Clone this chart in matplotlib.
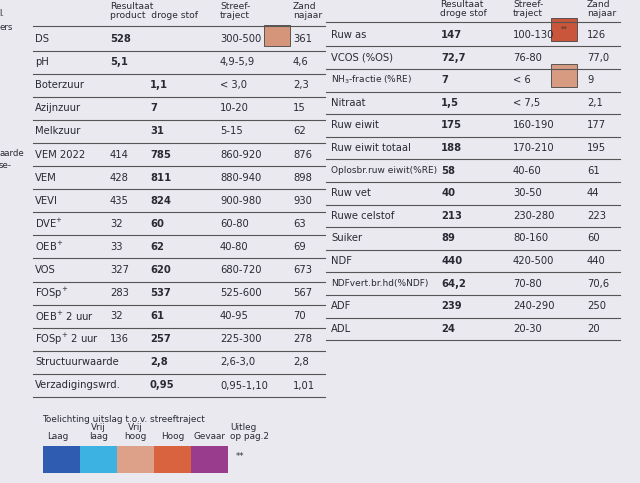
import matplotlib.pyplot as plt
from matplotlib.patches import Rectangle

# Left table
left_labels = ['DS', 'pH', 'Boterzuur', 'Azijnzuur', 'Melkzuur', 'VEM 2022', 'VEM', 'VEVI',
               'DVE$^{+}$', 'OEB$^{+}$', 'VOS', 'FOSp$^{+}$', 'OEB$^{+}$ 2 uur', 'FOSp$^{+}$ 2 uur',
               'Structuurwaarde', 'Verzadigingswrd.']
left_product = ['528', '5,1', '', '', '', '414', '428', '435', '32', '33', '327', '283', '32', '136', '', '']
left_ds = ['', '', '1,1', '7', '31', '785', '811', '824', '60', '62', '620', '537', '61', '257', '2,8', '0,95']
left_streef = ['300-500', '4,9-5,9', '< 3,0', '10-20', '5-15', '860-920', '880-940', '900-980',
               '60-80', '40-80', '680-720', '525-600', '40-95', '225-300', '2,6-3,0', '0,95-1,10']
left_zand = ['361', '4,6', '2,3', '15', '62', '876', '898', '930', '63', '69', '673', '567', '70',
             '278', '2,8', '1,01']

# Right table
right_labels = ['Ruw as', 'VCOS (%OS)', 'NH$_3$-fractie (%RE)', 'Nitraat', 'Ruw eiwit',
                'Ruw eiwit totaal', 'Oplosbr.ruw eiwit(%RE)', 'Ruw vet', 'Ruwe celstof', 'Suiker',
                'NDF', 'NDFvert.br.hd(%NDF)', 'ADF', 'ADL']
right_ds = ['147', '72,7', '7', '1,5', '175', '188', '58', '40', '213', '89', '440', '64,2', '239', '24']
right_traject = ['100-130', '76-80', '< 6', '< 7,5', '160-190', '170-210', '40-60', '30-50',
                 '230-280', '80-160', '420-500', '70-80', '240-290', '20-30']
right_najaar = ['126', '77,0', '9', '2,1', '177', '195', '61', '44', '223', '60', '440', '70,6',
                '250', '20']

legend_labels = ['Laag', 'Vrij\nlaag', 'Vrij\nhoog', 'Hoog', 'Gevaar']
legend_colors = ['#2f5cb0', '#3cb2e2', '#dda18a', '#d9633f', '#9a3c8e']

fig = plt.figure(figsize=(6.4, 4.83), dpi=100)
fig.patch.set_facecolor('#e9e9ef')
ax = fig.add_axes([0, 0, 1, 1])
ax.set_xlim(0, 640)
ax.set_ylim(483, 0)
ax.axis('off')

fs = 7.2
tc = '#2a2a35'

# headers
hfs = fs - 0.6
ax.text(110, 11, 'Resultaat\nproduct  droge stof', fontsize=hfs, color=tc, va='center', linespacing=1.1)
ax.text(220, 11, 'Streef-\ntraject', fontsize=hfs, color=tc, va='center', linespacing=1.1)
ax.text(293, 11, 'Zand\nnajaar', fontsize=hfs, color=tc, va='center', linespacing=1.1)
ax.text(440, 9, 'Resultaat\ndroge stof', fontsize=hfs, color=tc, va='center', linespacing=1.1)
ax.text(513, 9, 'Streef-\ntraject', fontsize=hfs, color=tc, va='center', linespacing=1.1)
ax.text(587, 9, 'Zand\nnajaar', fontsize=hfs, color=tc, va='center', linespacing=1.1)
for y, s in [(14, 'l.'), (27, 'ers'), (153, 'aarde'), (166, 'se-')]:
    ax.text(-1, y, s, fontsize=fs - 1, color=tc, va='center')

# left table
ax.plot([33, 325], [26, 26], color='#555', lw=0.8)
for i in range(len(left_labels)):
    y = 39 + i * 23.1
    ax.text(35, y, left_labels[i], fontsize=fs, color=tc, va='center')
    ax.text(110, y, left_product[i], fontsize=fs, color=tc, va='center',
            fontweight='bold' if i < 2 else 'normal')
    ax.text(150, y, left_ds[i], fontsize=fs, color=tc, va='center', fontweight='bold')
    ax.text(220, y, left_streef[i], fontsize=fs, color=tc, va='center')
    ax.text(293, y, left_zand[i], fontsize=fs, color=tc, va='center')
    ax.plot([33, 325], [y + 11.5, y + 11.5], color='#555', lw=0.8)
ax.add_patch(Rectangle((264, 25), 26, 21, facecolor='#d4957b', edgecolor='#444', lw=0.6))

# right table
ax.plot([326, 620], [22, 22], color='#555', lw=0.8)
for i in range(len(right_labels)):
    y = 35 + i * 22.6
    lab = right_labels[i]
    ax.text(331, y, lab, fontsize=fs - 0.7 if len(lab) > 18 else fs, color=tc, va='center')
    ax.text(441, y, right_ds[i], fontsize=fs, color=tc, va='center', fontweight='bold')
    ax.text(513, y, right_traject[i], fontsize=fs, color=tc, va='center')
    ax.text(587, y, right_najaar[i], fontsize=fs, color=tc, va='center')
    ax.plot([326, 620], [y + 11.3, y + 11.3], color='#555', lw=0.8)
ax.add_patch(Rectangle((551, 18), 26, 23, facecolor='#c9563b', edgecolor='#444', lw=0.6))
ax.text(564, 29, '**', fontsize=5, color='#333', ha='center', va='center')
ax.add_patch(Rectangle((551, 64), 26, 23, facecolor='#d79b82', edgecolor='#444', lw=0.6))

# legend
ax.text(42, 420, 'Toelichting uitslag t.o.v. streeftraject', fontsize=fs - 0.8, color=tc, va='center')
w = 37
for i, (lab, col) in enumerate(zip(legend_labels, legend_colors)):
    x0 = 43 + i * w
    ax.add_patch(Rectangle((x0, 446), w, 27, facecolor=col, edgecolor='none'))
    ax.text(x0 + w / 2 if i else x0 + 4, 441, lab, fontsize=fs - 0.8, color=tc,
            ha='center' if i else 'left', va='bottom', linespacing=1.0)
ax.text(230, 441, 'Uitleg\nop pag.2', fontsize=fs - 0.8, color=tc, va='bottom', linespacing=1.0)
ax.text(236, 457, '**', fontsize=6, color='#333', va='center')

fig.savefig('out.png', dpi=100, facecolor=fig.get_facecolor())
